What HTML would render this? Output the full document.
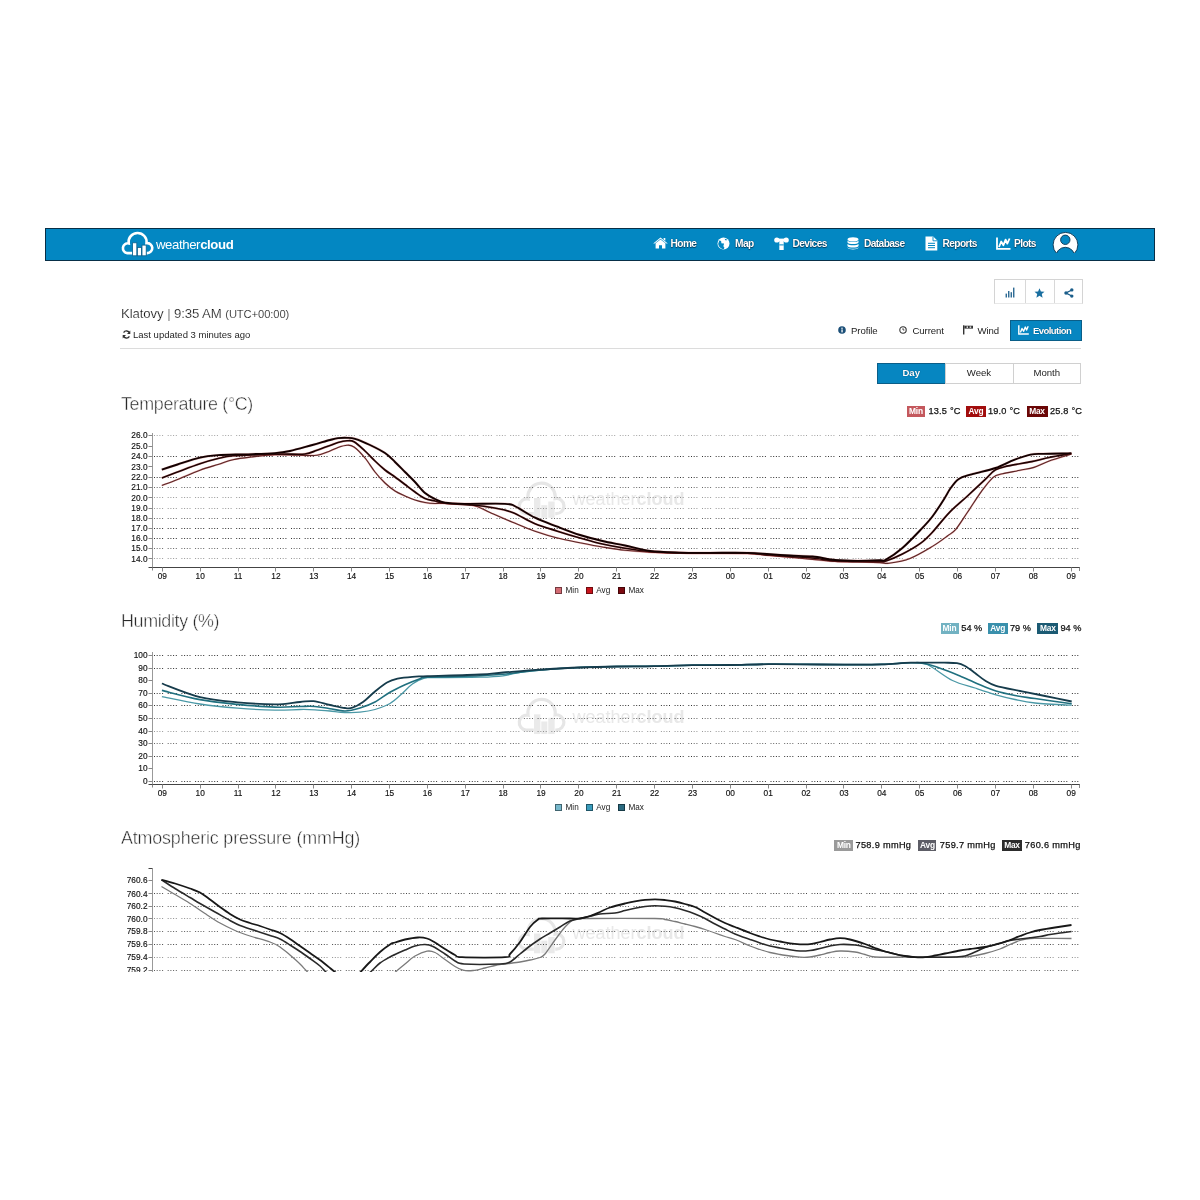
<!DOCTYPE html>
<html lang="en">
<head>
<meta charset="utf-8">
<title>Klatovy | Weathercloud</title>
<style>
*{margin:0;padding:0;box-sizing:border-box}
html,body{width:1200px;height:1200px;overflow:hidden;background:#fff}
body{position:relative;font-family:"Liberation Sans",Arial,sans-serif;color:#333}
.abs{position:absolute;white-space:nowrap}
/* navbar */
#nav{position:absolute;left:45px;top:228px;width:1110px;height:33px;background:#0387c2;border:1px solid #082f47}
.logo-t{position:absolute;left:156px;top:237px;font-size:13.2px;color:#fff;letter-spacing:-0.4px;line-height:16px}
.logo-t b{font-weight:700}
.ni{position:absolute;top:238.3px;font-size:10.2px;line-height:12px;font-weight:700;color:#fff;text-shadow:0 0 1px rgba(0,20,40,.9),0 1px 1px rgba(0,20,40,.6);letter-spacing:-0.6px}
.nicon{position:absolute}
/* header */
.ttl{position:absolute;left:121px;top:305.5px;font-size:13.2px;line-height:16px;color:#111;letter-spacing:-0.1px;-webkit-text-stroke:0.2px #fff}
.ttl small{font-size:11.2px}
.upd{position:absolute;left:133px;top:329px;font-size:9.5px;line-height:12px;color:#262626}
.sep{position:absolute;left:120px;top:348px;width:961px;height:1px;background:#dcdcdc}
.bg3{position:absolute;left:994px;top:279px;width:89px;height:25px;border:1px solid #d4d4d4;border-bottom-color:#e8e8e8;background:#fff}
.bg3 span{position:absolute;top:0;width:1px;height:23px;background:#d8d8d8}
.tab{position:absolute;top:325px;font-size:9.6px;line-height:12px;color:#1c1c1c;letter-spacing:-0.1px}
.evo{position:absolute;left:1010px;top:320px;width:72px;height:21px;background:#0686c1;border:1px solid #0a5e88}
.evo-t{position:absolute;left:1033px;top:325px;font-size:9.5px;line-height:12px;color:#fff;font-weight:700;text-shadow:0 0 1px #035;letter-spacing:-0.55px}
.seg{position:absolute;top:363px;height:21px;border:1px solid #d0d0d0;background:#fff;font-size:9.6px;line-height:17.6px;text-align:center;color:#1e1e1e}
.seg.on{background:#0686c1;border-color:#0a5e88;color:#fff;font-weight:700;text-shadow:0 0 1px #035}
/* chart headings */
.h2{position:absolute;left:121px;font-size:17.9px;line-height:20px;color:#2a2a2a;letter-spacing:-0.1px;-webkit-text-stroke:0.45px #fff;paint-order:normal}
.bd{position:absolute;height:11px;font-size:8.4px;line-height:11px;color:#fff;font-weight:700;text-align:center;letter-spacing:-0.2px}
.bv{position:absolute;font-size:9.2px;line-height:11px;color:#111;font-weight:400;letter-spacing:0px;-webkit-text-stroke:0.25px #111}
.lg{position:absolute;font-size:8.2px;line-height:8px;color:#222;padding-left:10.5px}
.lg i{position:absolute;left:0;top:0;width:7px;height:7px;border:1px solid rgba(0,0,0,.45)}
/* svg */
.charts{position:absolute;left:0;top:0}
.g{stroke:#333;stroke-width:1;stroke-dasharray:1 1.7 1 1.7 1 1.7 1 4.6;fill:none}
.ax{stroke:#444;stroke-width:1;fill:none}
.axy{stroke:#999;stroke-width:1;fill:none}
.axt{stroke:#888;stroke-width:1;fill:none}
.yl{font-family:"Liberation Sans",Arial,sans-serif;font-size:8.3px;fill:#111;text-anchor:end;stroke:#111;stroke-width:0.15px}
.xl{font-family:"Liberation Sans",Arial,sans-serif;font-size:8.3px;fill:#111;text-anchor:middle;stroke:#111;stroke-width:0.15px}
.wmc{fill:none;stroke:#e6e6e6;stroke-width:2.1}
.wmf{fill:#eaeaea}
.wmt{font-family:"Liberation Sans",Arial,sans-serif;font-size:18px;fill:#e8e8e8}
.tmax-u{stroke:#c33;stroke-width:2.5;fill:none;opacity:.25}
.tmax{stroke:#120000;stroke-width:1.85;fill:none}
.tavg-u{stroke:#c22;stroke-width:2.3;fill:none;opacity:.3}
.tavg{stroke:#1e0202;stroke-width:1.65;fill:none}
.tmin-u{stroke:#c44;stroke-width:1.8;fill:none;opacity:.4}
.tmin{stroke:#5a2626;stroke-width:1.1;fill:none}
.hmax{stroke:#163c4c;stroke-width:1.8;fill:none}
.havg{stroke:#20707f;stroke-width:1.6;fill:none}
.hmin{stroke:#4a98a6;stroke-width:1.3;fill:none}
.pmax{stroke:#181818;stroke-width:1.8;fill:none}
.pavg{stroke:#2a2a2a;stroke-width:1.6;fill:none}
.pmin{stroke:#7a7a7a;stroke-width:1.3;fill:none}
</style>
</head>
<body>

<!-- ===== NAVBAR ===== -->
<div id="nav"></div>
<svg class="nicon" style="left:118px;top:229px" width="40" height="30" viewBox="0 0 40 30">
  <path d="M14.5 24.1 H9.3 A4.9 4.9 0 1 1 10.71 14.41 A9 9 0 1 1 28.52 14.16 A5 5 0 1 1 29.3 24.1 H28.6" fill="none" stroke="#fff" stroke-width="2.6"/>
  <g fill="#fff" stroke="#0b5f8c" stroke-width="0.8">
  <rect x="14.6" y="13.8" width="4.2" height="13"/>
  <rect x="19.4" y="18.5" width="4" height="8.3"/>
  <rect x="24" y="16.1" width="4.2" height="10.7"/>
  </g>
</svg>
<div class="logo-t">weather<b>cloud</b></div>

<!-- home -->
<svg class="nicon" style="left:652.5px;top:237.3px" width="15" height="12" viewBox="0 0 15 12">
  <path d="M7.5 0.4 L0.2 6.4 L1.6 6.4 L7.5 1.8 L13.4 6.4 L14.8 6.4 Z M2.6 6.3 L7.5 2.5 L12.4 6.3 V11.6 H9 V8.2 H6 V11.6 H2.6 Z M10.6 1 H12.3 V3.8 L10.6 2.5 Z" fill="#fff"/>
</svg>
<div class="ni" style="left:670.5px">Home</div>
<!-- map globe -->
<svg class="nicon" style="left:717px;top:236.5px" width="13" height="13" viewBox="0 0 13 13">
  <circle cx="6.5" cy="6.5" r="6" fill="#fff"/>
  <path d="M2.3 3.5 C3.5 3.3 4.6 4.2 4.3 5.4 C4.1 6.2 5.3 6.6 6 6.3 C7 6 7.2 7.4 6.6 8.2 C6.2 8.8 6.6 10.2 7.4 10.4 L6.8 12.3 C4 12 1.4 9.6 1.2 6.8 Z M7.8 1.4 C8.6 2.2 9.8 2.2 10.4 2.9 C9.5 3.4 8.6 3.6 8 3 Z" fill="#0387c2"/>
</svg>
<div class="ni" style="left:735px">Map</div>
<!-- devices -->
<svg class="nicon" style="left:773.5px;top:236.5px" width="15" height="13" viewBox="0 0 15 13">
  <circle cx="2.8" cy="3" r="2.6" fill="#fff"/><circle cx="12.2" cy="3" r="2.6" fill="#fff"/>
  <rect x="2.5" y="1.6" width="10" height="2.6" fill="#fff"/>
  <rect x="5.3" y="4" width="4.4" height="9" fill="#fff"/>
  <rect x="5.3" y="7.4" width="4.4" height="1" fill="#0387c2"/>
</svg>
<div class="ni" style="left:792.5px">Devices</div>
<!-- database -->
<svg class="nicon" style="left:847px;top:236.5px" width="12" height="13" viewBox="0 0 12 13">
  <ellipse cx="6" cy="2.4" rx="5.5" ry="2.2" fill="#fff"/>
  <path d="M0.5 3.4 C1.5 5.4 10.5 5.4 11.5 3.4 V5.6 C10.5 7.6 1.5 7.6 0.5 5.6 Z" fill="#fff"/>
  <path d="M0.5 6.8 C1.5 8.8 10.5 8.8 11.5 6.8 V9 C10.5 11 1.5 11 0.5 9 Z" fill="#fff"/>
  <path d="M0.5 10.2 C1.5 12.2 10.5 12.2 11.5 10.2 V10.8 C10.5 13 1.5 13 0.5 10.8 Z" fill="#fff"/>
</svg>
<div class="ni" style="left:864px">Database</div>
<!-- reports -->
<svg class="nicon" style="left:924.5px;top:235.5px" width="13" height="15" viewBox="0 0 13 15">
  <path d="M0.5 0.5 H8.2 L12.3 4.6 V14.5 H0.5 Z" fill="#fff"/>
  <path d="M8 0.8 V4.8 H12" fill="none" stroke="#0387c2" stroke-width="0.9"/>
  <rect x="3" y="6.8" width="7" height="1" fill="#0387c2"/><rect x="3" y="9" width="7" height="1" fill="#0387c2"/><rect x="3" y="11.2" width="7" height="1" fill="#0387c2"/>
</svg>
<div class="ni" style="left:942.5px">Reports</div>
<!-- plots -->
<svg class="nicon" style="left:995.5px;top:236.5px" width="15" height="13" viewBox="0 0 15 13">
  <path d="M1 0.5 V11.8 H14.5" fill="none" stroke="#fff" stroke-width="1.8"/>
  <path d="M3 10 L5.2 4.5 L7.4 8.2 L9.6 2.6 L11.3 6.6 L13.6 1.5" fill="none" stroke="#fff" stroke-width="1.8" stroke-linejoin="round"/>
</svg>
<div class="ni" style="left:1014px">Plots</div>
<!-- user avatar -->
<svg class="nicon" style="left:1052px;top:230px" width="28" height="28" viewBox="0 0 28 28">
  <defs><clipPath id="uc"><rect x="0" y="0" width="28" height="23"/></clipPath></defs>
  <g clip-path="url(#uc)">
  <circle cx="13.5" cy="14.8" r="12.4" fill="#fff" stroke="#0a3350" stroke-width="0.9"/>
  <circle cx="13.3" cy="9.8" r="4.7" fill="#0387c2" stroke="#0a3350" stroke-width="0.9"/>
  <ellipse cx="13.3" cy="27.2" rx="9.6" ry="9.9" fill="#0387c2" stroke="#0a3350" stroke-width="0.9"/>
  </g>
</svg>

<!-- ===== HEADER ===== -->
<div class="ttl">Klatovy <span style="color:#555">|</span> 9:35 AM <small>(UTC+00:00)</small></div>
<svg class="nicon" style="left:121.5px;top:330px" width="9" height="9" viewBox="0 0 9 9">
  <path d="M7.6 3.3 A3.3 3.3 0 0 0 1.6 2.6 M1.4 5.7 A3.3 3.3 0 0 0 7.4 6.4" fill="none" stroke="#333" stroke-width="1.3"/>
  <path d="M8.3 0.6 V3.9 H5 Z M0.7 8.4 V5.1 H4 Z" fill="#333"/>
</svg>
<div class="upd">Last updated 3 minutes ago</div>
<div class="sep"></div>

<!-- button group -->
<div class="bg3"><span style="left:29.5px"></span><span style="left:58.5px"></span></div>
<svg class="nicon" style="left:1004.5px;top:287px" width="10" height="11" viewBox="0 0 10 11">
  <rect x="0.6" y="6.6" width="1.3" height="3.9" fill="#1a5d8a"/><rect x="3.1" y="4" width="1.3" height="6.5" fill="#1a5d8a"/><rect x="5.6" y="5.2" width="1.3" height="5.3" fill="#1a5d8a"/><rect x="8.1" y="0.6" width="1.3" height="9.9" fill="#1a5d8a"/>
</svg>
<svg class="nicon" style="left:1033.5px;top:287.5px" width="11" height="10" viewBox="0 0 11 10">
  <path d="M5.5 0.2 L6.9 3.5 L10.5 3.8 L7.8 6.1 L8.6 9.7 L5.5 7.8 L2.4 9.7 L3.2 6.1 L0.5 3.8 L4.1 3.5 Z" fill="#1a6fa0"/>
</svg>
<svg class="nicon" style="left:1063.5px;top:287.5px" width="10" height="10" viewBox="0 0 10 10">
  <path d="M7.8 2 L2 5 L7.8 8" fill="none" stroke="#1a5d8a" stroke-width="1.4"/>
  <circle cx="7.8" cy="1.9" r="1.7" fill="#1a5d8a"/><circle cx="2" cy="5" r="1.7" fill="#1a5d8a"/><circle cx="7.8" cy="8.1" r="1.7" fill="#1a5d8a"/>
</svg>

<!-- tabs -->
<svg class="nicon" style="left:837.5px;top:325.5px" width="8" height="8" viewBox="0 0 8 8">
  <circle cx="4" cy="4" r="3.8" fill="#1b4f78"/><rect x="3.4" y="3.4" width="1.3" height="3" fill="#fff"/><circle cx="4" cy="2.2" r="0.75" fill="#fff"/>
</svg>
<div class="tab" style="left:851px">Profile</div>
<svg class="nicon" style="left:898.5px;top:325.5px" width="8" height="8" viewBox="0 0 8 8">
  <circle cx="4" cy="4" r="3.2" fill="none" stroke="#333" stroke-width="1.1"/><path d="M4 2.2 V4 H5.4" fill="none" stroke="#333" stroke-width="0.9"/>
</svg>
<div class="tab" style="left:912.5px">Current</div>
<svg class="nicon" style="left:962px;top:325px" width="12" height="10" viewBox="0 0 12 10">
  <rect x="1" y="0.3" width="1.4" height="9.2" fill="#333"/>
  <rect x="2.4" y="0.7" width="8.6" height="2.9" fill="#333"/>
  <rect x="4.6" y="1.4" width="1.3" height="1.5" fill="#fff"/><rect x="7.6" y="1.4" width="1.6" height="1.5" fill="#ddd"/>
</svg>
<div class="tab" style="left:977.5px">Wind</div>
<div class="evo"></div>
<svg class="nicon" style="left:1018px;top:325px" width="11" height="10" viewBox="0 0 11 10">
  <path d="M0.8 0.3 V9 H10.8" fill="none" stroke="#fff" stroke-width="1.4"/>
  <path d="M2.4 7.5 L4 3.5 L5.6 6.2 L7.3 2.1 L8.6 5 L10.2 1.3" fill="none" stroke="#fff" stroke-width="1.4" stroke-linejoin="round"/>
</svg>
<div class="evo-t">Evolution</div>

<!-- Day/Week/Month -->
<div class="seg on" style="left:877px;width:68.5px">Day</div>
<div class="seg" style="left:944.5px;width:69px">Week</div>
<div class="seg" style="left:1012.5px;width:68.5px">Month</div>

<!-- ===== CHART HEADINGS ===== -->
<div class="h2" style="top:393.5px;letter-spacing:-0.34px">Temperature (°C)</div>
<div class="bd" style="left:907px;top:405.5px;width:18px;background:#c4585d">Min</div>
<div class="bv" style="left:928.5px;top:405.5px;letter-spacing:0.2px">13.5 °C</div>
<div class="bd" style="left:966px;top:405.5px;width:20px;background:#a20d0d">Avg</div>
<div class="bv" style="left:988px;top:405.5px;letter-spacing:0.2px">19.0 °C</div>
<div class="bd" style="left:1026.5px;top:405.5px;width:21px;background:#6a0606">Max</div>
<div class="bv" style="left:1050px;top:405.5px;letter-spacing:0.2px">25.8 °C</div>

<div class="lg" style="left:555px;top:586.5px"><i style="background:#d36b73"></i>Min</div>
<div class="lg" style="left:585.8px;top:586.5px"><i style="background:#c8141c"></i>Avg</div>
<div class="lg" style="left:618px;top:586.5px"><i style="background:#7c0a10"></i>Max</div>

<div class="h2" style="top:610.5px;letter-spacing:-0.35px">Humidity (%)</div>
<div class="bd" style="left:940.5px;top:622.5px;width:18px;background:#72b2c2">Min</div>
<div class="bv" style="left:961.3px;top:622.5px">54 %</div>
<div class="bd" style="left:988px;top:622.5px;width:19.5px;background:#3990ac">Avg</div>
<div class="bv" style="left:1010px;top:622.5px">79 %</div>
<div class="bd" style="left:1037.3px;top:622.5px;width:21px;background:#1b5a73">Max</div>
<div class="bv" style="left:1060.4px;top:622.5px">94 %</div>

<div class="lg" style="left:555px;top:803.5px"><i style="background:#77b8cc"></i>Min</div>
<div class="lg" style="left:585.8px;top:803.5px"><i style="background:#3a9cbc"></i>Avg</div>
<div class="lg" style="left:618px;top:803.5px"><i style="background:#2b6a80"></i>Max</div>

<div class="h2" style="top:827.5px;letter-spacing:-0.17px">Atmospheric pressure (mmHg)</div>
<div class="bd" style="left:834.3px;top:840px;width:19px;background:#9a9a9a">Min</div>
<div class="bv" style="left:855.5px;top:840px;letter-spacing:0.32px">758.9 mmHg</div>
<div class="bd" style="left:918.4px;top:840px;width:18px;background:#5d5d66">Avg</div>
<div class="bv" style="left:939.8px;top:840px;letter-spacing:0.32px">759.7 mmHg</div>
<div class="bd" style="left:1002px;top:840px;width:20px;background:#2c2c2c">Max</div>
<div class="bv" style="left:1024.8px;top:840px;letter-spacing:0.32px">760.6 mmHg</div>

<!-- ===== CHARTS ===== -->
<svg class="charts" width="1200" height="1200" viewBox="0 0 1200 1200">
<defs><clipPath id="cp3"><rect x="0" y="860" width="1200" height="112"/></clipPath></defs>
<g class="wm"><g transform="translate(511.79 477.05) scale(1.52)"><path d="M14.5 24.1 H9.3 A4.9 4.9 0 1 1 10.71 14.41 A9 9 0 1 1 28.52 14.16 A5 5 0 1 1 29.3 24.1 H28.6" class="wmc"/><rect x="14.6" y="13.8" width="4.2" height="13" class="wmf"/><rect x="19.4" y="18.5" width="4" height="8.3" class="wmf"/><rect x="24" y="16.1" width="4.2" height="10.7" class="wmf"/></g><text x="572.5" y="505.0" class="wmt">weather<tspan font-weight="700">cloud</tspan></text></g>
<line x1="154" y1="435.5" x2="1080" y2="435.5" class="g" opacity="0.45"/>
<line x1="154" y1="456.5" x2="1080" y2="456.5" class="g" opacity="1.00"/>
<line x1="154" y1="477.5" x2="1080" y2="477.5" class="g" opacity="1.00"/>
<line x1="154" y1="487.5" x2="1080" y2="487.5" class="g" opacity="0.75"/>
<line x1="154" y1="497.5" x2="1080" y2="497.5" class="g" opacity="0.50"/>
<line x1="154" y1="508.5" x2="1080" y2="508.5" class="g" opacity="0.50"/>
<line x1="154" y1="518.5" x2="1080" y2="518.5" class="g" opacity="0.75"/>
<line x1="154" y1="528.5" x2="1080" y2="528.5" class="g" opacity="1.00"/>
<line x1="154" y1="538.5" x2="1080" y2="538.5" class="g" opacity="1.00"/>
<line x1="154" y1="548.5" x2="1080" y2="548.5" class="g" opacity="0.75"/>
<line x1="154" y1="558.5" x2="1080" y2="558.5" class="g" opacity="0.50"/>
<line x1="152.5" y1="433.0" x2="152.5" y2="567.4" class="axy"/>
<line x1="148.5" y1="435.5" x2="152.5" y2="435.5" class="axt"/>
<text x="147.5" y="438.2" class="yl">26.0</text>
<line x1="148.5" y1="446.5" x2="152.5" y2="446.5" class="axt"/>
<text x="147.5" y="449.3" class="yl">25.0</text>
<line x1="148.5" y1="456.5" x2="152.5" y2="456.5" class="axt"/>
<text x="147.5" y="459.4" class="yl">24.0</text>
<line x1="148.5" y1="466.5" x2="152.5" y2="466.5" class="axt"/>
<text x="147.5" y="469.7" class="yl">23.0</text>
<line x1="148.5" y1="477.5" x2="152.5" y2="477.5" class="axt"/>
<text x="147.5" y="480.4" class="yl">22.0</text>
<line x1="148.5" y1="487.5" x2="152.5" y2="487.5" class="axt"/>
<text x="147.5" y="490.3" class="yl">21.0</text>
<line x1="148.5" y1="497.5" x2="152.5" y2="497.5" class="axt"/>
<text x="147.5" y="500.5" class="yl">20.0</text>
<line x1="148.5" y1="508.5" x2="152.5" y2="508.5" class="axt"/>
<text x="147.5" y="510.9" class="yl">19.0</text>
<line x1="148.5" y1="518.5" x2="152.5" y2="518.5" class="axt"/>
<text x="147.5" y="521.2" class="yl">18.0</text>
<line x1="148.5" y1="528.5" x2="152.5" y2="528.5" class="axt"/>
<text x="147.5" y="531.2" class="yl">17.0</text>
<line x1="148.5" y1="538.5" x2="152.5" y2="538.5" class="axt"/>
<text x="147.5" y="541.2" class="yl">16.0</text>
<line x1="148.5" y1="548.5" x2="152.5" y2="548.5" class="axt"/>
<text x="147.5" y="551.2" class="yl">15.0</text>
<line x1="148.5" y1="558.5" x2="152.5" y2="558.5" class="axt"/>
<text x="147.5" y="561.6" class="yl">14.0</text>
<line x1="148.5" y1="567.5" x2="1080" y2="567.5" class="ax"/>
<line x1="152.5" y1="567.5" x2="152.5" y2="570.5" class="axt"/>
<line x1="1079.5" y1="567.5" x2="1079.5" y2="571.0" class="axt"/>
<line x1="162.5" y1="567.5" x2="162.5" y2="571.5" class="axt"/>
<text x="162.3" y="578.9" class="xl">09</text>
<line x1="200.5" y1="567.5" x2="200.5" y2="571.5" class="axt"/>
<text x="200.2" y="578.9" class="xl">10</text>
<line x1="238.5" y1="567.5" x2="238.5" y2="571.5" class="axt"/>
<text x="238.0" y="578.9" class="xl">11</text>
<line x1="275.5" y1="567.5" x2="275.5" y2="571.5" class="axt"/>
<text x="275.9" y="578.9" class="xl">12</text>
<line x1="313.5" y1="567.5" x2="313.5" y2="571.5" class="axt"/>
<text x="313.8" y="578.9" class="xl">13</text>
<line x1="351.5" y1="567.5" x2="351.5" y2="571.5" class="axt"/>
<text x="351.6" y="578.9" class="xl">14</text>
<line x1="389.5" y1="567.5" x2="389.5" y2="571.5" class="axt"/>
<text x="389.5" y="578.9" class="xl">15</text>
<line x1="427.5" y1="567.5" x2="427.5" y2="571.5" class="axt"/>
<text x="427.4" y="578.9" class="xl">16</text>
<line x1="465.5" y1="567.5" x2="465.5" y2="571.5" class="axt"/>
<text x="465.3" y="578.9" class="xl">17</text>
<line x1="503.5" y1="567.5" x2="503.5" y2="571.5" class="axt"/>
<text x="503.1" y="578.9" class="xl">18</text>
<line x1="540.5" y1="567.5" x2="540.5" y2="571.5" class="axt"/>
<text x="541.0" y="578.9" class="xl">19</text>
<line x1="578.5" y1="567.5" x2="578.5" y2="571.5" class="axt"/>
<text x="578.9" y="578.9" class="xl">20</text>
<line x1="616.5" y1="567.5" x2="616.5" y2="571.5" class="axt"/>
<text x="616.7" y="578.9" class="xl">21</text>
<line x1="654.5" y1="567.5" x2="654.5" y2="571.5" class="axt"/>
<text x="654.6" y="578.9" class="xl">22</text>
<line x1="692.5" y1="567.5" x2="692.5" y2="571.5" class="axt"/>
<text x="692.5" y="578.9" class="xl">23</text>
<line x1="730.5" y1="567.5" x2="730.5" y2="571.5" class="axt"/>
<text x="730.3" y="578.9" class="xl">00</text>
<line x1="768.5" y1="567.5" x2="768.5" y2="571.5" class="axt"/>
<text x="768.2" y="578.9" class="xl">01</text>
<line x1="806.5" y1="567.5" x2="806.5" y2="571.5" class="axt"/>
<text x="806.1" y="578.9" class="xl">02</text>
<line x1="843.5" y1="567.5" x2="843.5" y2="571.5" class="axt"/>
<text x="844.0" y="578.9" class="xl">03</text>
<line x1="881.5" y1="567.5" x2="881.5" y2="571.5" class="axt"/>
<text x="881.8" y="578.9" class="xl">04</text>
<line x1="919.5" y1="567.5" x2="919.5" y2="571.5" class="axt"/>
<text x="919.7" y="578.9" class="xl">05</text>
<line x1="957.5" y1="567.5" x2="957.5" y2="571.5" class="axt"/>
<text x="957.6" y="578.9" class="xl">06</text>
<line x1="995.5" y1="567.5" x2="995.5" y2="571.5" class="axt"/>
<text x="995.4" y="578.9" class="xl">07</text>
<line x1="1033.5" y1="567.5" x2="1033.5" y2="571.5" class="axt"/>
<text x="1033.3" y="578.9" class="xl">08</text>
<line x1="1071.5" y1="567.5" x2="1071.5" y2="571.5" class="axt"/>
<text x="1071.2" y="578.9" class="xl">09</text>
<path d="M161.8 485.5 C164.4 484.5 171.1 482.1 177.5 479.5 C183.9 476.9 193.2 472.7 200.0 470.2 C206.8 467.7 212.5 466.2 218.0 464.5 C223.5 462.8 227.5 460.9 233.0 459.7 C238.5 458.4 244.0 457.8 251.0 457.0 C258.0 456.2 267.3 455.0 275.0 454.7 C282.7 454.4 290.4 455.1 297.4 455.2 C304.4 455.3 311.6 455.9 317.0 455.2 C322.4 454.5 326.5 452.3 330.0 451.0 C333.5 449.7 335.2 448.5 338.0 447.5 C340.8 446.5 344.3 445.3 347.0 445.2 C349.7 445.1 351.0 444.9 354.0 447.0 C357.0 449.1 361.5 453.8 365.0 458.0 C368.5 462.2 371.7 467.8 375.0 472.0 C378.3 476.2 381.7 479.8 385.0 483.0 C388.3 486.2 391.7 488.8 395.0 491.0 C398.3 493.2 401.7 494.5 405.0 496.0 C408.3 497.5 411.7 498.9 415.0 500.0 C418.3 501.1 421.7 501.9 425.0 502.5 C428.3 503.1 431.7 503.4 435.0 503.5 C438.3 503.6 438.8 503.1 445.0 503.4 C451.2 503.6 464.5 503.5 472.0 505.0 C479.5 506.5 483.2 509.6 490.0 512.5 C496.8 515.4 505.0 519.1 512.5 522.2 C520.0 525.3 527.5 528.6 535.0 531.2 C542.5 533.8 549.9 536.1 557.4 538.0 C564.9 539.9 572.5 541.3 580.0 542.8 C587.5 544.3 594.9 545.8 602.4 547.0 C609.9 548.2 617.1 549.4 625.0 550.3 C632.9 551.2 640.8 551.8 650.0 552.3 C659.2 552.8 670.0 553.0 680.0 553.2 C690.0 553.4 698.8 553.2 710.0 553.3 C721.2 553.3 737.5 553.1 747.5 553.5 C757.5 553.9 762.9 554.9 770.0 555.5 C777.1 556.1 782.9 556.6 790.0 557.3 C797.1 557.9 805.0 558.7 812.5 559.4 C820.0 560.1 827.5 561.0 835.0 561.4 C842.5 561.8 850.0 561.8 857.5 562.0 C865.0 562.2 874.8 562.4 880.0 562.6 C885.2 562.8 884.0 563.9 889.0 563.2 C894.0 562.5 902.8 561.2 910.0 558.4 C917.2 555.6 926.2 550.1 932.4 546.4 C938.6 542.7 943.5 538.9 947.4 536.0 C951.3 533.1 952.4 533.2 955.8 529.3 C959.1 525.3 963.2 518.6 967.5 512.3 C971.8 506.0 977.2 497.1 981.5 491.3 C985.8 485.5 989.7 480.2 993.2 477.3 C996.7 474.4 998.0 475.0 1002.5 473.8 C1007.0 472.6 1014.8 471.4 1020.0 470.3 C1025.2 469.2 1029.1 468.9 1034.0 467.4 C1038.9 465.8 1043.0 463.2 1049.2 461.0 C1055.4 458.8 1067.7 455.2 1071.4 454.0" class="tmin-u"/>
<path d="M161.8 485.5 C164.4 484.5 171.1 482.1 177.5 479.5 C183.9 476.9 193.2 472.7 200.0 470.2 C206.8 467.7 212.5 466.2 218.0 464.5 C223.5 462.8 227.5 460.9 233.0 459.7 C238.5 458.4 244.0 457.8 251.0 457.0 C258.0 456.2 267.3 455.0 275.0 454.7 C282.7 454.4 290.4 455.1 297.4 455.2 C304.4 455.3 311.6 455.9 317.0 455.2 C322.4 454.5 326.5 452.3 330.0 451.0 C333.5 449.7 335.2 448.5 338.0 447.5 C340.8 446.5 344.3 445.3 347.0 445.2 C349.7 445.1 351.0 444.9 354.0 447.0 C357.0 449.1 361.5 453.8 365.0 458.0 C368.5 462.2 371.7 467.8 375.0 472.0 C378.3 476.2 381.7 479.8 385.0 483.0 C388.3 486.2 391.7 488.8 395.0 491.0 C398.3 493.2 401.7 494.5 405.0 496.0 C408.3 497.5 411.7 498.9 415.0 500.0 C418.3 501.1 421.7 501.9 425.0 502.5 C428.3 503.1 431.7 503.4 435.0 503.5 C438.3 503.6 438.8 503.1 445.0 503.4 C451.2 503.6 464.5 503.5 472.0 505.0 C479.5 506.5 483.2 509.6 490.0 512.5 C496.8 515.4 505.0 519.1 512.5 522.2 C520.0 525.3 527.5 528.6 535.0 531.2 C542.5 533.8 549.9 536.1 557.4 538.0 C564.9 539.9 572.5 541.3 580.0 542.8 C587.5 544.3 594.9 545.8 602.4 547.0 C609.9 548.2 617.1 549.4 625.0 550.3 C632.9 551.2 640.8 551.8 650.0 552.3 C659.2 552.8 670.0 553.0 680.0 553.2 C690.0 553.4 698.8 553.2 710.0 553.3 C721.2 553.3 737.5 553.1 747.5 553.5 C757.5 553.9 762.9 554.9 770.0 555.5 C777.1 556.1 782.9 556.6 790.0 557.3 C797.1 557.9 805.0 558.7 812.5 559.4 C820.0 560.1 827.5 561.0 835.0 561.4 C842.5 561.8 850.0 561.8 857.5 562.0 C865.0 562.2 874.8 562.4 880.0 562.6 C885.2 562.8 884.0 563.9 889.0 563.2 C894.0 562.5 902.8 561.2 910.0 558.4 C917.2 555.6 926.2 550.1 932.4 546.4 C938.6 542.7 943.5 538.9 947.4 536.0 C951.3 533.1 952.4 533.2 955.8 529.3 C959.1 525.3 963.2 518.6 967.5 512.3 C971.8 506.0 977.2 497.1 981.5 491.3 C985.8 485.5 989.7 480.2 993.2 477.3 C996.7 474.4 998.0 475.0 1002.5 473.8 C1007.0 472.6 1014.8 471.4 1020.0 470.3 C1025.2 469.2 1029.1 468.9 1034.0 467.4 C1038.9 465.8 1043.0 463.2 1049.2 461.0 C1055.4 458.8 1067.7 455.2 1071.4 454.0" class="tmin"/>
<path d="M161.8 478.0 C164.4 477.0 171.1 474.4 177.5 472.0 C183.9 469.6 193.2 465.9 200.0 463.7 C206.8 461.4 212.5 459.8 218.0 458.5 C223.5 457.2 226.0 456.4 233.0 455.8 C240.0 455.2 251.8 455.0 260.0 454.7 C268.2 454.4 274.9 454.1 282.4 454.0 C289.9 453.9 299.2 454.6 305.0 454.0 C310.8 453.4 312.8 451.6 317.0 450.2 C321.2 448.8 326.5 446.8 330.0 445.5 C333.5 444.2 335.2 443.3 338.0 442.5 C340.8 441.7 344.3 440.9 347.0 440.8 C349.7 440.7 351.0 440.1 354.0 441.8 C357.0 443.5 361.5 447.8 365.0 451.0 C368.5 454.2 371.7 457.8 375.0 461.0 C378.3 464.2 381.7 467.3 385.0 470.0 C388.3 472.7 391.7 474.6 395.0 477.0 C398.3 479.4 401.7 482.0 405.0 484.5 C408.3 487.0 411.7 489.7 415.0 492.0 C418.3 494.3 421.7 497.0 425.0 498.5 C428.3 500.0 431.7 500.2 435.0 501.0 C438.3 501.8 438.8 502.5 445.0 503.2 C451.2 503.9 463.8 504.2 472.0 505.0 C480.2 505.8 487.8 506.8 494.5 508.0 C501.2 509.2 505.8 509.9 512.5 512.5 C519.2 515.1 527.5 520.6 535.0 523.7 C542.5 526.8 549.9 528.8 557.4 531.2 C564.9 533.6 572.5 535.9 580.0 538.0 C587.5 540.1 594.9 542.3 602.4 544.0 C609.9 545.7 617.1 547.0 625.0 548.2 C632.9 549.5 640.8 550.7 650.0 551.5 C659.2 552.3 670.0 552.6 680.0 552.9 C690.0 553.2 698.8 553.0 710.0 553.1 C721.2 553.2 737.5 552.9 747.5 553.2 C757.5 553.5 762.9 554.5 770.0 555.0 C777.1 555.5 782.9 556.0 790.0 556.5 C797.1 557.0 805.0 557.3 812.5 558.0 C820.0 558.7 827.5 560.2 835.0 560.8 C842.5 561.4 850.0 561.3 857.5 561.4 C865.0 561.5 875.2 561.5 880.0 561.4 C884.8 561.3 882.3 562.2 886.0 561.0 C889.7 559.8 896.7 556.9 902.4 554.0 C908.1 551.1 915.4 547.0 920.4 543.4 C925.4 539.8 927.5 537.5 932.4 532.2 C937.3 526.9 944.1 517.8 950.0 511.8 C955.9 505.8 961.7 501.4 967.5 496.0 C973.3 490.6 980.3 484.1 985.0 479.7 C989.7 475.3 991.6 472.1 995.5 469.8 C999.4 467.5 1002.3 467.3 1008.3 465.9 C1014.3 464.5 1024.9 463.0 1031.7 461.6 C1038.5 460.2 1042.6 458.9 1049.2 457.5 C1055.8 456.1 1067.7 454.1 1071.4 453.4" class="tavg-u"/>
<path d="M161.8 478.0 C164.4 477.0 171.1 474.4 177.5 472.0 C183.9 469.6 193.2 465.9 200.0 463.7 C206.8 461.4 212.5 459.8 218.0 458.5 C223.5 457.2 226.0 456.4 233.0 455.8 C240.0 455.2 251.8 455.0 260.0 454.7 C268.2 454.4 274.9 454.1 282.4 454.0 C289.9 453.9 299.2 454.6 305.0 454.0 C310.8 453.4 312.8 451.6 317.0 450.2 C321.2 448.8 326.5 446.8 330.0 445.5 C333.5 444.2 335.2 443.3 338.0 442.5 C340.8 441.7 344.3 440.9 347.0 440.8 C349.7 440.7 351.0 440.1 354.0 441.8 C357.0 443.5 361.5 447.8 365.0 451.0 C368.5 454.2 371.7 457.8 375.0 461.0 C378.3 464.2 381.7 467.3 385.0 470.0 C388.3 472.7 391.7 474.6 395.0 477.0 C398.3 479.4 401.7 482.0 405.0 484.5 C408.3 487.0 411.7 489.7 415.0 492.0 C418.3 494.3 421.7 497.0 425.0 498.5 C428.3 500.0 431.7 500.2 435.0 501.0 C438.3 501.8 438.8 502.5 445.0 503.2 C451.2 503.9 463.8 504.2 472.0 505.0 C480.2 505.8 487.8 506.8 494.5 508.0 C501.2 509.2 505.8 509.9 512.5 512.5 C519.2 515.1 527.5 520.6 535.0 523.7 C542.5 526.8 549.9 528.8 557.4 531.2 C564.9 533.6 572.5 535.9 580.0 538.0 C587.5 540.1 594.9 542.3 602.4 544.0 C609.9 545.7 617.1 547.0 625.0 548.2 C632.9 549.5 640.8 550.7 650.0 551.5 C659.2 552.3 670.0 552.6 680.0 552.9 C690.0 553.2 698.8 553.0 710.0 553.1 C721.2 553.2 737.5 552.9 747.5 553.2 C757.5 553.5 762.9 554.5 770.0 555.0 C777.1 555.5 782.9 556.0 790.0 556.5 C797.1 557.0 805.0 557.3 812.5 558.0 C820.0 558.7 827.5 560.2 835.0 560.8 C842.5 561.4 850.0 561.3 857.5 561.4 C865.0 561.5 875.2 561.5 880.0 561.4 C884.8 561.3 882.3 562.2 886.0 561.0 C889.7 559.8 896.7 556.9 902.4 554.0 C908.1 551.1 915.4 547.0 920.4 543.4 C925.4 539.8 927.5 537.5 932.4 532.2 C937.3 526.9 944.1 517.8 950.0 511.8 C955.9 505.8 961.7 501.4 967.5 496.0 C973.3 490.6 980.3 484.1 985.0 479.7 C989.7 475.3 991.6 472.1 995.5 469.8 C999.4 467.5 1002.3 467.3 1008.3 465.9 C1014.3 464.5 1024.9 463.0 1031.7 461.6 C1038.5 460.2 1042.6 458.9 1049.2 457.5 C1055.8 456.1 1067.7 454.1 1071.4 453.4" class="tavg"/>
<path d="M161.8 469.7 C164.4 468.8 171.1 466.5 177.5 464.5 C183.9 462.5 193.2 459.2 200.0 457.7 C206.8 456.1 210.5 455.8 218.0 455.2 C225.5 454.6 235.5 454.6 245.0 454.3 C254.5 454.0 267.5 453.8 275.0 453.2 C282.5 452.6 283.8 452.4 290.0 451.0 C296.2 449.6 305.7 446.8 312.4 445.0 C319.1 443.2 325.7 441.1 330.0 440.0 C334.3 438.9 335.2 438.6 338.0 438.2 C340.8 437.8 344.2 437.7 347.0 437.8 C349.8 437.9 351.2 437.6 355.0 438.8 C358.8 440.0 365.0 442.6 370.0 445.0 C375.0 447.4 380.8 450.2 385.0 453.0 C389.2 455.8 391.7 458.8 395.0 462.0 C398.3 465.2 401.7 468.7 405.0 472.0 C408.3 475.3 411.7 478.5 415.0 482.0 C418.3 485.5 421.7 490.2 425.0 493.0 C428.3 495.8 431.7 497.4 435.0 499.0 C438.3 500.6 440.1 501.9 445.0 502.7 C449.9 503.5 454.5 503.6 464.5 503.8 C474.5 504.0 496.5 503.4 505.0 503.8 C513.5 504.2 510.5 504.2 515.5 506.5 C520.5 508.8 528.0 514.3 535.0 517.7 C542.0 521.1 549.9 523.8 557.4 526.7 C564.9 529.6 572.5 532.6 580.0 535.0 C587.5 537.4 594.9 539.2 602.4 541.0 C609.9 542.8 617.1 543.8 625.0 545.5 C632.9 547.2 640.8 549.8 650.0 551.0 C659.2 552.2 670.0 552.3 680.0 552.6 C690.0 552.9 698.8 552.8 710.0 552.8 C721.2 552.8 737.5 552.6 747.5 552.8 C757.5 553.0 762.9 553.8 770.0 554.2 C777.1 554.7 782.9 555.1 790.0 555.5 C797.1 555.9 805.0 555.8 812.5 556.5 C820.0 557.2 827.5 559.3 835.0 560.0 C842.5 560.7 850.0 560.8 857.5 560.8 C865.0 560.8 875.2 560.4 880.0 560.2 C884.8 560.0 882.3 561.6 886.0 559.6 C889.7 557.6 896.7 552.9 902.4 548.0 C908.1 543.1 915.4 535.2 920.4 530.0 C925.4 524.8 928.4 521.8 932.4 516.5 C936.4 511.2 941.5 503.1 944.4 498.5 C947.3 493.9 947.9 492.0 950.0 489.0 C952.1 486.0 955.0 482.2 957.0 480.3 C959.0 478.4 959.0 478.4 961.7 477.3 C964.4 476.2 967.7 475.4 973.3 473.8 C978.9 472.2 988.7 470.3 995.5 468.0 C1002.3 465.7 1008.4 462.0 1014.2 459.8 C1020.0 457.6 1025.7 455.6 1030.5 454.6 C1035.3 453.6 1036.5 454.0 1043.3 453.8 C1050.1 453.6 1066.7 453.5 1071.4 453.4" class="tmax-u"/>
<path d="M161.8 469.7 C164.4 468.8 171.1 466.5 177.5 464.5 C183.9 462.5 193.2 459.2 200.0 457.7 C206.8 456.1 210.5 455.8 218.0 455.2 C225.5 454.6 235.5 454.6 245.0 454.3 C254.5 454.0 267.5 453.8 275.0 453.2 C282.5 452.6 283.8 452.4 290.0 451.0 C296.2 449.6 305.7 446.8 312.4 445.0 C319.1 443.2 325.7 441.1 330.0 440.0 C334.3 438.9 335.2 438.6 338.0 438.2 C340.8 437.8 344.2 437.7 347.0 437.8 C349.8 437.9 351.2 437.6 355.0 438.8 C358.8 440.0 365.0 442.6 370.0 445.0 C375.0 447.4 380.8 450.2 385.0 453.0 C389.2 455.8 391.7 458.8 395.0 462.0 C398.3 465.2 401.7 468.7 405.0 472.0 C408.3 475.3 411.7 478.5 415.0 482.0 C418.3 485.5 421.7 490.2 425.0 493.0 C428.3 495.8 431.7 497.4 435.0 499.0 C438.3 500.6 440.1 501.9 445.0 502.7 C449.9 503.5 454.5 503.6 464.5 503.8 C474.5 504.0 496.5 503.4 505.0 503.8 C513.5 504.2 510.5 504.2 515.5 506.5 C520.5 508.8 528.0 514.3 535.0 517.7 C542.0 521.1 549.9 523.8 557.4 526.7 C564.9 529.6 572.5 532.6 580.0 535.0 C587.5 537.4 594.9 539.2 602.4 541.0 C609.9 542.8 617.1 543.8 625.0 545.5 C632.9 547.2 640.8 549.8 650.0 551.0 C659.2 552.2 670.0 552.3 680.0 552.6 C690.0 552.9 698.8 552.8 710.0 552.8 C721.2 552.8 737.5 552.6 747.5 552.8 C757.5 553.0 762.9 553.8 770.0 554.2 C777.1 554.7 782.9 555.1 790.0 555.5 C797.1 555.9 805.0 555.8 812.5 556.5 C820.0 557.2 827.5 559.3 835.0 560.0 C842.5 560.7 850.0 560.8 857.5 560.8 C865.0 560.8 875.2 560.4 880.0 560.2 C884.8 560.0 882.3 561.6 886.0 559.6 C889.7 557.6 896.7 552.9 902.4 548.0 C908.1 543.1 915.4 535.2 920.4 530.0 C925.4 524.8 928.4 521.8 932.4 516.5 C936.4 511.2 941.5 503.1 944.4 498.5 C947.3 493.9 947.9 492.0 950.0 489.0 C952.1 486.0 955.0 482.2 957.0 480.3 C959.0 478.4 959.0 478.4 961.7 477.3 C964.4 476.2 967.7 475.4 973.3 473.8 C978.9 472.2 988.7 470.3 995.5 468.0 C1002.3 465.7 1008.4 462.0 1014.2 459.8 C1020.0 457.6 1025.7 455.6 1030.5 454.6 C1035.3 453.6 1036.5 454.0 1043.3 453.8 C1050.1 453.6 1066.7 453.5 1071.4 453.4" class="tmax"/>
<g class="wm"><g transform="translate(511.79 693.35) scale(1.52)"><path d="M14.5 24.1 H9.3 A4.9 4.9 0 1 1 10.71 14.41 A9 9 0 1 1 28.52 14.16 A5 5 0 1 1 29.3 24.1 H28.6" class="wmc"/><rect x="14.6" y="13.8" width="4.2" height="13" class="wmf"/><rect x="19.4" y="18.5" width="4" height="8.3" class="wmf"/><rect x="24" y="16.1" width="4.2" height="10.7" class="wmf"/></g><text x="572.5" y="723.0" class="wmt">weather<tspan font-weight="700">cloud</tspan></text></g>
<line x1="154" y1="655.5" x2="1080" y2="655.5" class="g" opacity="1.00"/>
<line x1="154" y1="668.5" x2="1080" y2="668.5" class="g" opacity="1.00"/>
<line x1="154" y1="693.5" x2="1080" y2="693.5" class="g" opacity="1.00"/>
<line x1="154" y1="705.5" x2="1080" y2="705.5" class="g" opacity="1.00"/>
<line x1="154" y1="718.5" x2="1080" y2="718.5" class="g" opacity="0.75"/>
<line x1="154" y1="731.5" x2="1080" y2="731.5" class="g" opacity="0.50"/>
<line x1="154" y1="743.5" x2="1080" y2="743.5" class="g" opacity="0.75"/>
<line x1="154" y1="756.5" x2="1080" y2="756.5" class="g" opacity="1.00"/>
<line x1="154" y1="781.5" x2="1080" y2="781.5" class="g" opacity="1.00"/>
<line x1="152.5" y1="652.0" x2="152.5" y2="784.5" class="axy"/>
<line x1="148.5" y1="655.5" x2="152.5" y2="655.5" class="axt"/>
<text x="147.5" y="658.2" class="yl">100</text>
<line x1="148.5" y1="668.5" x2="152.5" y2="668.5" class="axt"/>
<text x="147.5" y="671.3" class="yl">90</text>
<line x1="148.5" y1="680.5" x2="152.5" y2="680.5" class="axt"/>
<text x="147.5" y="683.3" class="yl">80</text>
<line x1="148.5" y1="693.5" x2="152.5" y2="693.5" class="axt"/>
<text x="147.5" y="696.3" class="yl">70</text>
<line x1="148.5" y1="705.5" x2="152.5" y2="705.5" class="axt"/>
<text x="147.5" y="708.4" class="yl">60</text>
<line x1="148.5" y1="718.5" x2="152.5" y2="718.5" class="axt"/>
<text x="147.5" y="721.4" class="yl">50</text>
<line x1="148.5" y1="731.5" x2="152.5" y2="731.5" class="axt"/>
<text x="147.5" y="734.1" class="yl">40</text>
<line x1="148.5" y1="743.5" x2="152.5" y2="743.5" class="axt"/>
<text x="147.5" y="746.4" class="yl">30</text>
<line x1="148.5" y1="756.5" x2="152.5" y2="756.5" class="axt"/>
<text x="147.5" y="759.3" class="yl">20</text>
<line x1="148.5" y1="768.5" x2="152.5" y2="768.5" class="axt"/>
<text x="147.5" y="771.4" class="yl">10</text>
<line x1="148.5" y1="781.5" x2="152.5" y2="781.5" class="axt"/>
<text x="147.5" y="784.2" class="yl">0</text>
<line x1="148.5" y1="784.5" x2="1080" y2="784.5" class="ax"/>
<line x1="152.5" y1="784.5" x2="152.5" y2="787.5" class="axt"/>
<line x1="1079.5" y1="784.5" x2="1079.5" y2="788.0" class="axt"/>
<line x1="162.5" y1="784.5" x2="162.5" y2="788.5" class="axt"/>
<text x="162.3" y="795.9" class="xl">09</text>
<line x1="200.5" y1="784.5" x2="200.5" y2="788.5" class="axt"/>
<text x="200.2" y="795.9" class="xl">10</text>
<line x1="238.5" y1="784.5" x2="238.5" y2="788.5" class="axt"/>
<text x="238.0" y="795.9" class="xl">11</text>
<line x1="275.5" y1="784.5" x2="275.5" y2="788.5" class="axt"/>
<text x="275.9" y="795.9" class="xl">12</text>
<line x1="313.5" y1="784.5" x2="313.5" y2="788.5" class="axt"/>
<text x="313.8" y="795.9" class="xl">13</text>
<line x1="351.5" y1="784.5" x2="351.5" y2="788.5" class="axt"/>
<text x="351.6" y="795.9" class="xl">14</text>
<line x1="389.5" y1="784.5" x2="389.5" y2="788.5" class="axt"/>
<text x="389.5" y="795.9" class="xl">15</text>
<line x1="427.5" y1="784.5" x2="427.5" y2="788.5" class="axt"/>
<text x="427.4" y="795.9" class="xl">16</text>
<line x1="465.5" y1="784.5" x2="465.5" y2="788.5" class="axt"/>
<text x="465.3" y="795.9" class="xl">17</text>
<line x1="503.5" y1="784.5" x2="503.5" y2="788.5" class="axt"/>
<text x="503.1" y="795.9" class="xl">18</text>
<line x1="540.5" y1="784.5" x2="540.5" y2="788.5" class="axt"/>
<text x="541.0" y="795.9" class="xl">19</text>
<line x1="578.5" y1="784.5" x2="578.5" y2="788.5" class="axt"/>
<text x="578.9" y="795.9" class="xl">20</text>
<line x1="616.5" y1="784.5" x2="616.5" y2="788.5" class="axt"/>
<text x="616.7" y="795.9" class="xl">21</text>
<line x1="654.5" y1="784.5" x2="654.5" y2="788.5" class="axt"/>
<text x="654.6" y="795.9" class="xl">22</text>
<line x1="692.5" y1="784.5" x2="692.5" y2="788.5" class="axt"/>
<text x="692.5" y="795.9" class="xl">23</text>
<line x1="730.5" y1="784.5" x2="730.5" y2="788.5" class="axt"/>
<text x="730.3" y="795.9" class="xl">00</text>
<line x1="768.5" y1="784.5" x2="768.5" y2="788.5" class="axt"/>
<text x="768.2" y="795.9" class="xl">01</text>
<line x1="806.5" y1="784.5" x2="806.5" y2="788.5" class="axt"/>
<text x="806.1" y="795.9" class="xl">02</text>
<line x1="843.5" y1="784.5" x2="843.5" y2="788.5" class="axt"/>
<text x="844.0" y="795.9" class="xl">03</text>
<line x1="881.5" y1="784.5" x2="881.5" y2="788.5" class="axt"/>
<text x="881.8" y="795.9" class="xl">04</text>
<line x1="919.5" y1="784.5" x2="919.5" y2="788.5" class="axt"/>
<text x="919.7" y="795.9" class="xl">05</text>
<line x1="957.5" y1="784.5" x2="957.5" y2="788.5" class="axt"/>
<text x="957.6" y="795.9" class="xl">06</text>
<line x1="995.5" y1="784.5" x2="995.5" y2="788.5" class="axt"/>
<text x="995.4" y="795.9" class="xl">07</text>
<line x1="1033.5" y1="784.5" x2="1033.5" y2="788.5" class="axt"/>
<text x="1033.3" y="795.9" class="xl">08</text>
<line x1="1071.5" y1="784.5" x2="1071.5" y2="788.5" class="axt"/>
<text x="1071.2" y="795.9" class="xl">09</text>
<path d="M161.9 696.7 C168.2 697.9 187.4 702.1 200.0 704.0 C212.6 705.9 225.0 707.1 237.5 708.1 C250.0 709.1 264.6 710.0 275.0 710.2 C285.4 710.4 293.3 709.6 300.0 709.5 C306.7 709.4 310.0 709.5 315.0 709.8 C320.0 710.0 325.0 710.5 330.0 711.0 C335.0 711.5 340.0 712.3 345.0 712.5 C350.0 712.7 355.0 712.7 360.0 712.2 C365.0 711.7 370.0 711.0 375.0 709.5 C380.0 708.0 385.5 706.1 390.0 703.5 C394.5 700.9 398.3 697.0 402.0 693.7 C405.7 690.5 408.7 686.6 412.4 684.0 C416.1 681.4 420.6 679.0 424.4 678.0 C428.2 677.0 425.7 677.8 435.0 677.7 C444.3 677.6 468.7 677.5 480.0 677.2 C491.3 676.9 496.1 676.7 503.0 675.8 C509.9 674.9 515.4 673.0 521.7 672.0 C528.0 671.0 531.5 670.8 541.0 670.0 C550.5 669.2 566.2 668.1 579.0 667.5 C591.8 666.9 604.9 666.7 617.5 666.5 C630.1 666.3 641.9 666.5 654.4 666.2 C666.9 666.0 679.6 665.4 692.3 665.2 C705.0 665.0 717.7 665.2 730.4 665.0 C743.1 664.8 755.7 664.3 768.3 664.2 C780.9 664.1 793.6 664.3 806.2 664.4 C818.9 664.5 831.8 664.6 844.4 664.6 C857.0 664.6 870.6 664.7 881.7 664.4 C892.8 664.1 903.2 662.7 910.8 662.7 C918.3 662.7 920.0 661.5 927.0 664.5 C934.0 667.5 944.5 676.6 952.5 680.5 C960.5 684.4 967.8 685.6 975.0 688.0 C982.2 690.4 989.3 692.8 996.0 694.8 C1002.7 696.7 1008.5 698.1 1015.0 699.5 C1021.5 700.9 1025.5 702.0 1035.0 703.0 C1044.5 704.0 1065.6 704.9 1071.7 705.2" class="hmin"/>
<path d="M161.9 690.4 C168.2 691.9 187.4 697.3 200.0 699.6 C212.6 701.9 225.0 703.1 237.5 704.4 C250.0 705.6 264.6 706.8 275.0 707.1 C285.4 707.5 293.3 706.6 300.0 706.5 C306.7 706.4 310.0 706.1 315.0 706.5 C320.0 706.9 325.0 708.0 330.0 708.7 C335.0 709.5 340.0 711.1 345.0 711.0 C350.0 710.9 355.0 709.5 360.0 708.0 C365.0 706.5 370.0 704.6 375.0 702.0 C380.0 699.4 385.0 695.1 390.0 692.2 C395.0 689.3 400.0 687.0 405.0 684.7 C410.0 682.5 416.3 680.0 420.0 678.7 C423.7 677.5 417.4 677.7 427.4 677.2 C437.4 676.7 467.4 676.2 480.0 675.7 C492.6 675.2 492.8 675.2 503.0 674.2 C513.2 673.2 528.3 671.1 541.0 670.0 C553.7 668.9 566.2 668.1 579.0 667.5 C591.8 666.9 604.9 666.7 617.5 666.5 C630.1 666.3 641.9 666.5 654.4 666.2 C666.9 666.0 679.6 665.4 692.3 665.2 C705.0 665.0 717.7 665.2 730.4 665.0 C743.1 664.8 755.7 664.3 768.3 664.2 C780.9 664.1 793.6 664.3 806.2 664.4 C818.9 664.5 831.8 664.6 844.4 664.6 C857.0 664.6 870.6 664.7 881.7 664.4 C892.8 664.1 903.2 662.8 910.8 662.7 C918.3 662.6 921.3 662.8 927.0 664.0 C932.7 665.2 939.5 668.0 945.0 670.0 C950.5 672.0 954.5 673.7 960.0 676.0 C965.5 678.3 972.0 681.5 978.0 684.0 C984.0 686.5 989.8 689.1 996.0 691.0 C1002.2 692.9 1008.5 694.2 1015.0 695.5 C1021.5 696.8 1025.5 697.1 1035.0 698.5 C1044.5 699.9 1065.6 702.9 1071.7 703.8" class="havg"/>
<path d="M161.9 683.5 C168.2 685.8 187.4 694.0 200.0 697.1 C212.6 700.2 225.0 701.1 237.5 702.3 C250.0 703.5 264.6 704.4 275.0 704.4 C285.4 704.4 293.6 702.5 300.0 702.0 C306.4 701.5 308.5 700.7 313.5 701.2 C318.5 701.7 324.8 703.9 330.0 705.0 C335.2 706.1 341.2 707.5 345.0 708.0 C348.8 708.5 349.5 708.7 352.5 707.7 C355.5 706.7 359.2 704.7 363.0 702.0 C366.8 699.3 371.0 694.8 375.0 691.5 C379.0 688.2 383.2 684.6 387.0 682.5 C390.8 680.4 393.3 679.7 397.5 678.7 C401.7 677.8 407.4 677.2 412.4 676.8 C417.4 676.4 416.1 676.6 427.4 676.2 C438.7 675.8 467.4 675.1 480.0 674.5 C492.6 673.9 492.8 673.3 503.0 672.5 C513.2 671.7 528.3 670.4 541.0 669.6 C553.7 668.8 566.2 668.0 579.0 667.5 C591.8 667.0 604.9 666.7 617.5 666.5 C630.1 666.3 641.9 666.5 654.4 666.2 C666.9 666.0 679.6 665.4 692.3 665.2 C705.0 665.0 717.7 665.2 730.4 665.0 C743.1 664.8 755.7 664.3 768.3 664.2 C780.9 664.1 793.6 664.3 806.2 664.4 C818.9 664.5 831.8 664.6 844.4 664.6 C857.0 664.6 870.6 664.7 881.7 664.4 C892.8 664.1 900.4 663.0 910.8 662.7 C921.2 662.4 936.5 662.6 944.2 662.7 C951.9 662.8 953.5 662.7 957.0 663.2 C960.5 663.8 962.0 664.4 965.0 666.0 C968.0 667.6 971.7 670.6 975.0 673.0 C978.3 675.4 981.5 678.4 985.0 680.5 C988.5 682.6 990.2 684.0 996.0 685.8 C1001.8 687.5 1011.8 689.3 1020.0 691.0 C1028.2 692.7 1036.4 694.2 1045.0 696.0 C1053.6 697.8 1067.2 700.6 1071.7 701.5" class="hmax"/>
<g clip-path="url(#cp3)">
<g class="wm"><g transform="translate(511.79 912.55) scale(1.52)"><path d="M14.5 24.1 H9.3 A4.9 4.9 0 1 1 10.71 14.41 A9 9 0 1 1 28.52 14.16 A5 5 0 1 1 29.3 24.1 H28.6" class="wmc"/><rect x="14.6" y="13.8" width="4.2" height="13" class="wmf"/><rect x="19.4" y="18.5" width="4" height="8.3" class="wmf"/><rect x="24" y="16.1" width="4.2" height="10.7" class="wmf"/></g><text x="572.5" y="938.5" class="wmt">weather<tspan font-weight="700">cloud</tspan></text></g>
<line x1="154" y1="893.5" x2="1080" y2="893.5" class="g" opacity="0.90"/>
<line x1="154" y1="906.5" x2="1080" y2="906.5" class="g" opacity="0.80"/>
<line x1="154" y1="918.5" x2="1080" y2="918.5" class="g" opacity="0.55"/>
<line x1="154" y1="931.5" x2="1080" y2="931.5" class="g" opacity="0.80"/>
<line x1="154" y1="944.5" x2="1080" y2="944.5" class="g" opacity="0.90"/>
<line x1="154" y1="957.5" x2="1080" y2="957.5" class="g" opacity="0.55"/>
<line x1="154" y1="970.5" x2="1080" y2="970.5" class="g" opacity="0.80"/>
<line x1="152.5" y1="868.5" x2="152.5" y2="975.0" class="axy"/>
<line x1="148.5" y1="880.5" x2="152.5" y2="880.5" class="axt"/>
<text x="147.5" y="882.9" class="yl">760.6</text>
<line x1="148.5" y1="893.5" x2="152.5" y2="893.5" class="axt"/>
<text x="147.5" y="896.5" class="yl">760.4</text>
<line x1="148.5" y1="906.5" x2="152.5" y2="906.5" class="axt"/>
<text x="147.5" y="909.3" class="yl">760.2</text>
<line x1="148.5" y1="918.5" x2="152.5" y2="918.5" class="axt"/>
<text x="147.5" y="921.7" class="yl">760.0</text>
<line x1="148.5" y1="931.5" x2="152.5" y2="931.5" class="axt"/>
<text x="147.5" y="934.2" class="yl">759.8</text>
<line x1="148.5" y1="944.5" x2="152.5" y2="944.5" class="axt"/>
<text x="147.5" y="947.2" class="yl">759.6</text>
<line x1="148.5" y1="957.5" x2="152.5" y2="957.5" class="axt"/>
<text x="147.5" y="960.4" class="yl">759.4</text>
<line x1="148.5" y1="970.5" x2="152.5" y2="970.5" class="axt"/>
<text x="147.5" y="973.2" class="yl">759.2</text>
<line x1="148.5" y1="868.5" x2="152.5" y2="868.5" class="ax"/>
<path d="M161.5 886.5 C163.8 887.8 170.2 891.7 175.0 894.5 C179.8 897.3 185.0 900.3 190.0 903.5 C195.0 906.7 200.0 910.2 205.0 913.5 C210.0 916.8 215.0 920.2 220.0 923.0 C225.0 925.8 230.0 928.3 235.0 930.5 C240.0 932.7 244.2 934.1 250.0 936.0 C255.8 937.9 265.0 940.2 270.0 942.0 C275.0 943.8 276.7 944.8 280.0 947.0 C283.3 949.2 286.7 952.2 290.0 955.0 C293.3 957.8 297.2 961.2 300.0 964.0 C302.8 966.8 303.7 968.0 307.0 971.5 C310.3 975.0 312.8 980.2 320.0 985.0 C327.2 989.8 339.2 1000.5 350.0 1000.0 C360.8 999.5 377.3 986.8 385.0 982.0 C392.7 977.2 392.7 974.5 396.0 971.5 C399.3 968.5 401.8 966.6 405.0 964.0 C408.2 961.4 411.3 958.1 415.0 956.0 C418.7 953.9 423.7 951.8 427.0 951.2 C430.3 950.6 432.0 951.1 435.0 952.5 C438.0 953.9 441.7 957.2 445.0 959.5 C448.3 961.8 452.0 964.7 455.0 966.5 C458.0 968.3 460.0 969.5 463.0 970.2 C466.0 970.9 469.3 970.9 473.0 970.5 C476.7 970.1 481.3 968.8 485.0 968.0 C488.7 967.2 491.7 966.2 495.0 965.5 C498.3 964.8 500.8 964.6 505.0 964.0 C509.2 963.4 515.8 962.7 520.0 962.0 C524.2 961.3 526.7 960.8 530.0 960.0 C533.3 959.2 537.5 958.5 540.0 957.5 C542.5 956.5 542.5 956.9 545.0 954.0 C547.5 951.1 551.7 944.5 555.0 940.0 C558.3 935.5 562.2 930.2 565.0 927.0 C567.8 923.8 570.2 921.9 572.0 920.5 C573.8 919.1 573.0 919.1 576.0 918.8 C579.0 918.5 576.8 918.5 590.0 918.5 C603.2 918.5 642.5 918.3 655.0 918.5 C667.5 918.7 661.7 919.0 665.0 919.5 C668.3 920.0 671.7 920.8 675.0 921.5 C678.3 922.2 681.7 923.2 685.0 924.0 C688.3 924.8 691.7 925.6 695.0 926.5 C698.3 927.4 701.7 928.4 705.0 929.5 C708.3 930.6 711.7 931.8 715.0 933.0 C718.3 934.2 721.7 935.4 725.0 936.5 C728.3 937.6 730.8 937.9 735.0 939.5 C739.2 941.1 745.8 944.3 750.0 946.0 C754.2 947.7 756.7 948.4 760.0 949.5 C763.3 950.6 766.7 951.7 770.0 952.5 C773.3 953.3 776.7 953.9 780.0 954.5 C783.3 955.1 786.7 955.5 790.0 956.0 C793.3 956.5 796.7 957.0 800.0 957.2 C803.3 957.4 806.7 957.4 810.0 957.0 C813.3 956.6 816.7 955.8 820.0 955.0 C823.3 954.2 826.7 953.2 830.0 952.5 C833.3 951.8 835.8 951.1 840.0 951.0 C844.2 950.9 850.8 951.4 855.0 952.0 C859.2 952.6 861.7 953.7 865.0 954.5 C868.3 955.3 868.3 956.5 875.0 957.0 C881.7 957.5 891.7 957.2 905.0 957.2 C918.3 957.2 944.2 957.3 955.0 957.2 C965.8 957.1 965.0 957.1 970.0 956.5 C975.0 955.9 980.0 954.8 985.0 953.5 C990.0 952.2 995.8 950.5 1000.0 949.0 C1004.2 947.5 1006.7 945.9 1010.0 944.5 C1013.3 943.1 1016.7 941.5 1020.0 940.5 C1023.3 939.5 1026.7 938.9 1030.0 938.5 C1033.3 938.1 1033.1 938.3 1040.0 938.3 C1046.9 938.3 1066.2 938.5 1071.5 938.5" class="pmin"/>
<path d="M161.5 879.8 C163.8 881.2 170.2 885.5 175.0 888.5 C179.8 891.5 185.8 895.0 190.0 897.5 C194.2 900.0 195.8 901.1 200.0 903.5 C204.2 905.9 210.0 909.2 215.0 912.0 C220.0 914.8 225.8 918.2 230.0 920.5 C234.2 922.8 235.8 923.8 240.0 925.5 C244.2 927.2 250.0 928.8 255.0 930.5 C260.0 932.2 265.8 934.1 270.0 935.5 C274.2 936.9 276.7 937.4 280.0 939.0 C283.3 940.6 286.7 942.9 290.0 945.0 C293.3 947.1 296.7 949.2 300.0 951.5 C303.3 953.8 306.7 956.1 310.0 958.5 C313.3 960.9 316.7 963.1 320.0 966.0 C323.3 968.9 325.3 972.0 330.0 976.0 C334.7 980.0 342.7 989.3 348.0 990.0 C353.3 990.7 358.2 983.1 362.0 980.0 C365.8 976.9 368.0 974.3 371.0 971.5 C374.0 968.7 376.8 965.4 380.0 963.0 C383.2 960.6 387.5 958.4 390.0 957.0 C392.5 955.6 392.5 955.7 395.0 954.5 C397.5 953.3 401.7 951.4 405.0 950.0 C408.3 948.6 411.7 946.9 415.0 946.0 C418.3 945.1 422.0 944.4 425.0 944.5 C428.0 944.6 429.7 944.9 433.0 946.5 C436.3 948.1 441.3 951.6 445.0 954.0 C448.7 956.4 451.8 959.3 455.0 961.0 C458.2 962.7 456.5 963.5 464.0 964.0 C471.5 964.5 492.3 964.3 500.0 964.0 C507.7 963.7 506.7 963.7 510.0 962.0 C513.3 960.3 516.7 956.7 520.0 954.0 C523.3 951.3 526.7 948.5 530.0 946.0 C533.3 943.5 536.7 941.2 540.0 939.0 C543.3 936.8 546.7 935.0 550.0 933.0 C553.3 931.0 556.7 929.0 560.0 927.0 C563.3 925.0 566.7 922.4 570.0 921.0 C573.3 919.6 576.7 919.3 580.0 918.5 C583.3 917.7 586.7 917.0 590.0 916.2 C593.3 915.5 595.8 914.5 600.0 914.0 C604.2 913.5 610.8 913.6 615.0 913.0 C619.2 912.4 621.7 911.3 625.0 910.5 C628.3 909.7 631.7 908.9 635.0 908.2 C638.3 907.5 641.7 906.9 645.0 906.5 C648.3 906.1 651.7 905.8 655.0 905.8 C658.3 905.8 661.7 906.0 665.0 906.3 C668.3 906.6 671.7 907.1 675.0 907.8 C678.3 908.5 681.7 909.5 685.0 910.5 C688.3 911.5 691.7 912.7 695.0 914.0 C698.3 915.3 701.7 916.8 705.0 918.5 C708.3 920.2 711.7 922.2 715.0 924.0 C718.3 925.8 721.7 927.3 725.0 929.0 C728.3 930.7 730.8 932.2 735.0 934.0 C739.2 935.8 745.8 938.0 750.0 939.5 C754.2 941.0 756.7 941.9 760.0 943.0 C763.3 944.1 766.7 945.2 770.0 946.0 C773.3 946.8 776.7 947.4 780.0 948.0 C783.3 948.6 786.7 949.3 790.0 949.8 C793.3 950.3 796.7 950.9 800.0 951.0 C803.3 951.1 806.7 950.9 810.0 950.5 C813.3 950.1 816.7 949.2 820.0 948.5 C823.3 947.8 826.7 946.7 830.0 946.0 C833.3 945.3 835.8 944.7 840.0 944.5 C844.2 944.3 850.8 944.6 855.0 945.0 C859.2 945.4 861.7 946.2 865.0 947.0 C868.3 947.8 871.7 948.8 875.0 949.5 C878.3 950.2 881.7 950.8 885.0 951.5 C888.3 952.2 891.7 953.2 895.0 954.0 C898.3 954.8 901.7 955.5 905.0 956.0 C908.3 956.5 910.0 957.0 915.0 957.2 C920.0 957.4 928.3 957.2 935.0 957.2 C941.7 957.2 950.0 957.2 955.0 957.0 C960.0 956.8 961.7 956.8 965.0 956.0 C968.3 955.2 971.7 953.4 975.0 952.0 C978.3 950.6 981.7 948.8 985.0 947.5 C988.3 946.2 990.8 945.7 995.0 944.5 C999.2 943.3 1005.8 941.4 1010.0 940.5 C1014.2 939.6 1016.7 939.5 1020.0 939.0 C1023.3 938.5 1026.7 938.2 1030.0 937.8 C1033.3 937.4 1036.7 937.0 1040.0 936.5 C1043.3 936.0 1046.7 935.1 1050.0 934.5 C1053.3 933.9 1056.4 933.5 1060.0 933.0 C1063.6 932.5 1069.6 931.8 1071.5 931.5" class="pavg"/>
<path d="M161.5 879.8 C163.8 880.4 170.2 882.0 175.0 883.5 C179.8 885.0 185.8 887.0 190.0 888.5 C194.2 890.0 196.7 890.7 200.0 892.5 C203.3 894.3 206.7 897.1 210.0 899.5 C213.3 901.9 216.7 904.6 220.0 907.0 C223.3 909.4 226.7 911.9 230.0 914.0 C233.3 916.1 236.7 918.0 240.0 919.5 C243.3 921.0 246.7 921.9 250.0 923.0 C253.3 924.1 256.7 924.9 260.0 926.0 C263.3 927.1 266.7 928.3 270.0 929.5 C273.3 930.7 276.7 931.4 280.0 933.0 C283.3 934.6 286.7 936.8 290.0 939.0 C293.3 941.2 296.7 943.7 300.0 946.0 C303.3 948.3 306.7 950.7 310.0 953.0 C313.3 955.3 316.7 957.5 320.0 960.0 C323.3 962.5 326.7 965.3 330.0 968.0 C333.3 970.7 337.0 973.7 340.0 976.0 C343.0 978.3 345.5 981.7 348.0 982.0 C350.5 982.3 352.8 979.8 355.0 978.0 C357.2 976.2 358.5 974.2 361.0 971.5 C363.5 968.8 366.8 965.2 370.0 962.0 C373.2 958.8 376.7 954.9 380.0 952.0 C383.3 949.1 387.5 946.1 390.0 944.5 C392.5 942.9 392.5 943.3 395.0 942.5 C397.5 941.7 401.2 940.3 405.0 939.5 C408.8 938.7 414.3 937.7 418.0 937.5 C421.7 937.3 424.2 937.7 427.0 938.5 C429.8 939.3 432.0 940.8 435.0 942.5 C438.0 944.2 441.7 946.9 445.0 949.0 C448.3 951.1 452.2 953.6 455.0 955.0 C457.8 956.4 453.7 956.8 462.0 957.2 C470.3 957.6 497.0 957.7 505.0 957.2 C513.0 956.7 507.5 956.5 510.0 954.0 C512.5 951.5 516.7 946.5 520.0 942.0 C523.3 937.5 527.0 930.8 530.0 927.0 C533.0 923.2 536.0 920.9 538.0 919.5 C540.0 918.1 536.7 918.7 542.0 918.5 C547.3 918.3 563.7 918.5 570.0 918.5 C576.3 918.5 576.7 918.9 580.0 918.5 C583.3 918.1 586.7 917.1 590.0 916.0 C593.3 914.9 596.7 913.4 600.0 912.0 C603.3 910.6 605.8 908.9 610.0 907.5 C614.2 906.1 620.8 904.5 625.0 903.5 C629.2 902.5 631.7 901.9 635.0 901.3 C638.3 900.7 641.7 900.1 645.0 899.8 C648.3 899.5 651.7 899.3 655.0 899.3 C658.3 899.3 661.7 899.6 665.0 900.0 C668.3 900.4 671.7 900.8 675.0 901.5 C678.3 902.2 681.7 903.1 685.0 904.0 C688.3 904.9 691.7 905.6 695.0 907.0 C698.3 908.4 701.7 910.7 705.0 912.5 C708.3 914.3 711.7 916.2 715.0 918.0 C718.3 919.8 721.7 921.5 725.0 923.0 C728.3 924.5 730.8 925.3 735.0 927.0 C739.2 928.7 745.8 931.4 750.0 933.0 C754.2 934.6 756.7 935.4 760.0 936.5 C763.3 937.6 766.7 938.7 770.0 939.5 C773.3 940.3 776.7 940.9 780.0 941.5 C783.3 942.1 786.7 942.8 790.0 943.3 C793.3 943.8 796.7 944.1 800.0 944.3 C803.3 944.4 806.7 944.6 810.0 944.2 C813.3 943.8 816.7 942.8 820.0 942.0 C823.3 941.2 826.7 940.1 830.0 939.5 C833.3 938.9 836.7 938.2 840.0 938.2 C843.3 938.2 845.8 938.5 850.0 939.5 C854.2 940.5 860.8 942.6 865.0 944.0 C869.2 945.4 871.7 946.8 875.0 948.0 C878.3 949.2 881.7 950.5 885.0 951.5 C888.3 952.5 891.7 953.2 895.0 954.0 C898.3 954.8 901.7 955.5 905.0 956.0 C908.3 956.5 911.7 957.0 915.0 957.2 C918.3 957.4 921.7 957.5 925.0 957.2 C928.3 956.9 931.7 956.1 935.0 955.5 C938.3 954.9 940.8 954.3 945.0 953.5 C949.2 952.7 955.8 951.2 960.0 950.5 C964.2 949.8 965.8 949.6 970.0 949.0 C974.2 948.4 980.0 947.9 985.0 947.0 C990.0 946.1 995.8 944.7 1000.0 943.5 C1004.2 942.3 1006.7 941.2 1010.0 940.0 C1013.3 938.8 1016.7 937.2 1020.0 936.0 C1023.3 934.8 1026.7 933.5 1030.0 932.5 C1033.3 931.5 1035.8 930.8 1040.0 930.0 C1044.2 929.2 1049.8 928.3 1055.0 927.5 C1060.2 926.7 1068.8 925.4 1071.5 925.0" class="pmax"/>
</g>
</svg>

</body>
</html>
